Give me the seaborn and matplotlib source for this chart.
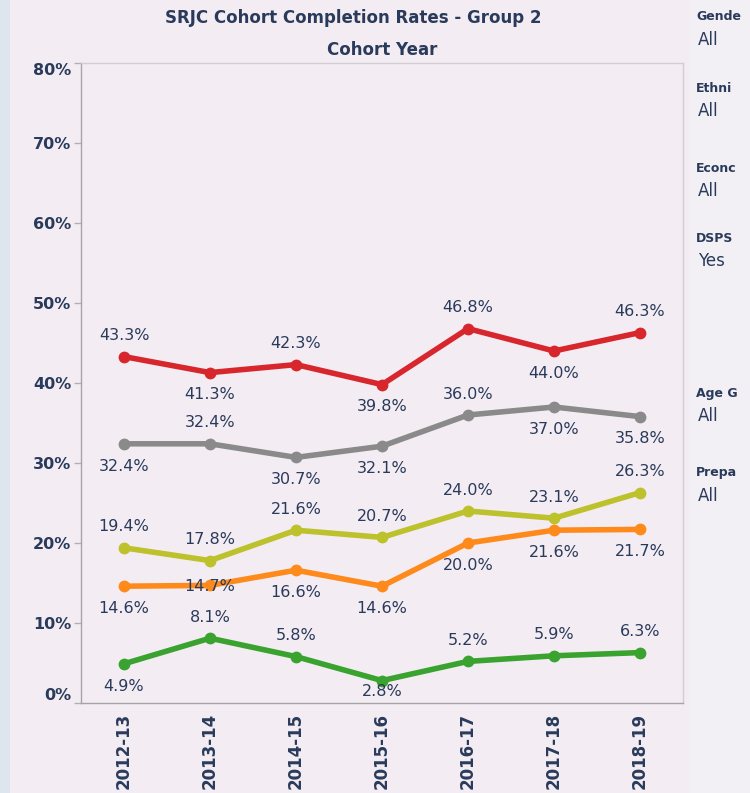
import matplotlib
matplotlib.use("Agg")
import matplotlib.pyplot as plt
import matplotlib.patches as mpatches
import seaborn as sns
import pandas as pd

# ---- data ----
years = ["2012-13", "2013-14", "2014-15", "2015-16", "2016-17", "2017-18", "2018-19"]
rate_red = [43.3, 41.3, 42.3, 39.8, 46.8, 44.0, 46.3]
rate_gray = [32.4, 32.4, 30.7, 32.1, 36.0, 37.0, 35.8]
rate_yellow = [19.4, 17.8, 21.6, 20.7, 24.0, 23.1, 26.3]
rate_orange = [14.6, 14.7, 16.6, 14.6, 20.0, 21.6, 21.7]
rate_green = [4.9, 8.1, 5.8, 2.8, 5.2, 5.9, 6.3]
y_ticks = [0, 10, 20, 30, 40, 50, 60, 70, 80]
filter_names = ["Gende", "Ethni", "Econc", "DSPS", "Age G", "Prepa"]
filter_values = ["All", "All", "All", "Yes", "All", "All"]

series = {
    "Series 1": rate_red,
    "Series 2": rate_gray,
    "Series 3": rate_yellow,
    "Series 4": rate_orange,
    "Series 5": rate_green,
}
palette = {
    "Series 1": "#d8262d",
    "Series 2": "#8a8a8a",
    "Series 3": "#bcc12c",
    "Series 4": "#ff8a1c",
    "Series 5": "#3aa22e",
}
# label placement (offset in points, + above / - below)
U, D = 15, -16
label_offsets = {
    "Series 1": [U, D, U, D, U, D, U],
    "Series 2": [D, U, D, D, U, D, D],
    "Series 3": [U, U, U, U, U, U, U],
    "Series 4": [D, -1, D, D, D, D, D],
    "Series 5": [D, U, U, -8, U, U, U],
}

rows = []
for name, vals in series.items():
    for yr, v in zip(years, vals):
        rows.append({"Cohort Year": yr, "Rate": v, "Series": name})
df = pd.DataFrame(rows)

text_color = "#2a3a5a"
bg = "#f3edf3"

sns.set_theme(style="white")
plt.rcParams["font.family"] = ["DejaVu Sans"]

fig = plt.figure(figsize=(7.5, 7.93), dpi=100)
fig.patch.set_facecolor(bg)
# left light-blue strip
fig.add_artist(mpatches.Rectangle((0, 0), 10 / 750, 1, transform=fig.transFigure,
                                  facecolor="#dde6ee", edgecolor="none", zorder=0))
fig.add_artist(mpatches.Rectangle((690 / 750, 0), 60 / 750, 1, transform=fig.transFigure,
                                  facecolor="#f2f0f5", edgecolor="none", zorder=0))

ax = fig.add_axes([81 / 750, 1 - 703 / 793, (683 - 81) / 750, (703 - 63) / 793])
ax.set_facecolor(bg)

sns.lineplot(data=df, x="Cohort Year", y="Rate", hue="Series", palette=palette,
             sort=False, linewidth=4, marker="o", markersize=8.5, markeredgewidth=0,
             legend=False, ax=ax)

for name, vals in series.items():
    for i, v in enumerate(vals):
        off = label_offsets[name][i]
        ax.annotate(f"{v:.1f}%", xy=(i, v), xytext=(0, off), textcoords="offset points",
                    ha="center", va="center", fontsize=11.5, color=text_color, zorder=5)

ax.set_xlim(-0.5, len(years) - 0.5)
ax.set_ylim(0, 80)
ax.set_yticks(y_ticks)
ax.set_yticklabels([f"{t}%" for t in y_ticks], fontsize=11.5, fontweight="bold", color=text_color)
tl = ax.get_yticklabels()
tl[0].set_va("bottom")
tl[-1].set_va("top")
ax.set_xticks(range(len(years)))
ax.set_xticklabels(years, rotation=90, fontsize=12, fontweight="bold", color=text_color)
ax.set_xticks([i - 0.5 for i in range(len(years) + 1)], minor=True)
ax.tick_params(axis="x", which="major", length=0, pad=7)
ax.tick_params(axis="x", which="minor", length=6, color="#a8a8a8", width=1, direction="out")
ax.tick_params(axis="y", which="major", length=5, color="#b0b0b0", width=1, direction="out", pad=2, left=True)
ax.set_xlabel("")
ax.set_ylabel("")

for side in ["left", "bottom"]:
    ax.spines[side].set_color("#a5a5a5")
    ax.spines[side].set_linewidth(1)
for side in ["top", "right"]:
    ax.spines[side].set_color("#d0cdd3")
    ax.spines[side].set_linewidth(1)

fig.text(353 / 750, 1 - 18 / 793, "SRJC Cohort Completion Rates - Group 2", ha="center", va="center",
         fontsize=12, fontweight="bold", color=text_color)
fig.text(382 / 750, 1 - 50 / 793, "Cohort Year", ha="center", va="center",
         fontsize=12, fontweight="bold", color=text_color)

header_y = [17, 88, 168, 238, 393, 473]
for name, val, yy in zip(filter_names, filter_values, header_y):
    fig.text(696 / 750, 1 - yy / 793, name, ha="left", va="center", fontsize=9,
             fontweight="bold", color=text_color)
    fig.text(698 / 750, 1 - (yy + 23) / 793, val, ha="left", va="center", fontsize=12,
             color=text_color)

fig.savefig("out.png", dpi=100, facecolor=fig.get_facecolor())
